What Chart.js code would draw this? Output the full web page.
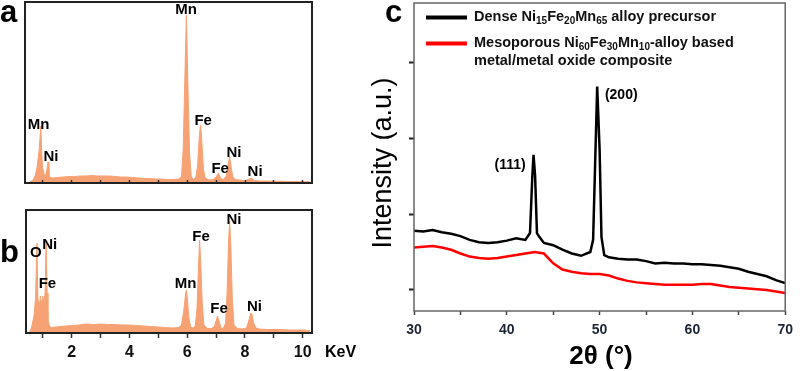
<!DOCTYPE html>
<html>
<head>
<meta charset="utf-8">
<script src="https://cdn.jsdelivr.net/npm/chart.js@4"></script>
<style>
body { margin: 0; background: #fff; }
#wrap { position: relative; width: 800px; height: 371px; overflow: hidden; }
canvas { position: absolute; }
</style>
</head>
<body>
<div id="wrap">
  <canvas id="chartA" width="330" height="190" style="left:0;top:0"></canvas>
  <canvas id="chartB" width="370" height="181" style="left:0;top:190px"></canvas>
  <canvas id="chartC" width="440" height="371" style="left:360px;top:0"></canvas>
</div>
<script>
// EDS spectrum a (dense precursor), energy in keV, counts in arb. units
const keVA = [0.45,0.52,0.60,0.66,0.74,0.80,0.87,0.93,0.96,0.99,1.04,1.08,1.13,1.18,1.21,1.25,1.35,1.50,1.70,1.90,2.10,2.30,2.50,2.70,2.90,3.10,3.30,3.50,3.70,3.90,4.10,4.30,4.50,4.70,4.90,5.10,5.30,5.50,5.70,5.80,5.86,5.92,5.97,6.02,6.08,6.14,6.22,6.30,6.36,6.42,6.46,6.50,6.56,6.62,6.75,6.90,7.00,7.08,7.15,7.25,7.35,7.41,7.47,7.52,7.58,7.66,7.80,8.00,8.12,8.22,8.32,8.50,8.75,9.00,9.25,9.50,9.75,10.00,10.25];
const countsA = [0,0.5,2,3,8,16,33,57,30,16,9,7,12,21,9,5.5,5,5.5,6,6.5,6.5,7,7,7.5,7,7,7,6.5,6,6,5.5,5,4.5,4.5,4,4,3.5,3.5,4,6,35,110,168,100,30,6,3.5,6,18,48,58,44,14,5,3,3.5,6,10,5,3.5,7,18,26,16,6,3.5,3,2.5,3.5,5,2.5,2,2,1.8,1.8,1.5,1.5,1.3,1.2];

// EDS spectrum b (mesoporous composite)
const keVB = [0.50,0.55,0.62,0.70,0.75,0.80,0.83,0.86,0.90,0.92,0.95,0.98,1.00,1.04,1.08,1.12,1.15,1.18,1.23,1.30,1.45,1.60,1.80,2.00,2.25,2.50,2.75,3.00,3.25,3.50,3.75,4.00,4.25,4.50,4.75,5.00,5.25,5.50,5.70,5.80,5.88,5.94,5.97,6.00,6.06,6.12,6.20,6.28,6.34,6.39,6.43,6.47,6.52,6.58,6.70,6.85,6.95,7.02,7.05,7.10,7.17,7.25,7.33,7.38,7.43,7.47,7.51,7.56,7.62,7.75,7.90,8.05,8.13,8.20,8.24,8.30,8.38,8.50,8.75,9.00,9.25,9.50,9.75,10.00,10.25];
const countsB = [0,1,6,18,35,90,35,28,32,37,30,33,37,30,40,93,40,14,7,5.5,6,6.5,7,7.5,8,9,8.5,9,8.5,8.5,8,8,7.5,7,6.5,6,5.5,5,5.5,8,22,38,43,36,15,6,5,7,25,65,93,70,30,8,4.5,4.5,7,14,17,12,5,4.5,10,40,90,112,88,35,8,4.5,4,5,12,20,19,10,5,4,3.5,3.5,3.5,3,3,3,2.5];

const energyTicks = [1,2,3,4,5,6,7,8,9,10];
const energyLabels = [2,4,6,8,10];

// labels: [text, keV, counts] at the label centre
const peakLabelsA = [['Mn',5.96,173.5],['Mn',0.85,58.3],['Ni',1.28,26],['Fe',6.55,62.5],['Fe',7.14,14.5],['Ni',7.62,30.5],['Ni',8.35,11.3]];
const peakLabelsB = [['O',0.76,80],['Ni',1.24,87.7],['Fe',1.16,49],['Mn',5.94,49.5],['Fe',6.48,96],['Ni',7.62,113.5],['Fe',7.10,24.5],['Ni',8.33,26]];

// XRD patterns, 2theta in degrees
const thetaDense = [30,31,32,33,34,35,36,37,38,39,40,41,42,42.5,42.75,42.88,43.05,43.25,43.5,44,45,46,47,48,49,49.3,49.5,49.74,50.0,50.2,50.5,51,52,53,54,55,56,57,58,59,60,61,62,63,64,65,66,67,68,69,70];
const intDense = [1.78,1.77,1.79,1.76,1.74,1.71,1.66,1.63,1.62,1.63,1.65,1.68,1.66,1.75,2.50,2.78,2.50,1.75,1.70,1.62,1.59,1.53,1.48,1.45,1.50,1.66,2.58,3.68,2.85,1.70,1.46,1.43,1.41,1.40,1.40,1.38,1.35,1.36,1.35,1.35,1.34,1.34,1.33,1.32,1.30,1.28,1.24,1.21,1.18,1.13,1.09];
const thetaMeso = [30,31,32,33,34,35,36,37,38,39,40,41,42,43,44,45,46,47,48,49,50,51,52,53,54,55,56,57,58,59,60,61,62,63,64,65,66,67,68,69,70];
const intMeso = [1.56,1.57,1.58,1.56,1.53,1.48,1.44,1.42,1.41,1.42,1.44,1.46,1.48,1.50,1.48,1.35,1.27,1.24,1.22,1.21,1.21,1.19,1.15,1.12,1.10,1.09,1.08,1.07,1.07,1.07,1.07,1.08,1.08,1.06,1.04,1.03,1.02,1.01,1.00,0.98,0.96];

const thetaTicks = [30,35,40,45,50,55,60,65,70];
const thetaLabels = [30,40,50,60,70];
const intensityTicks = [1,2,3,4];

const FONT = "'Liberation Sans', Arial, sans-serif";
const ORANGE = '#F7A274';

function pts(xs, ys) { return xs.map((x, i) => ({ x: x, y: ys[i] })); }

// draws frame, panel letter and texts
const decor = {
  id: 'decor',
  afterDraw(chart, args, opts) {
    const ctx = chart.ctx, a = chart.chartArea;
    ctx.save();
    ctx.strokeStyle = opts.frameColor;
    ctx.lineWidth = opts.frameWidth;
    ctx.strokeRect(a.left, a.top, a.right - a.left, a.bottom - a.top);
    ctx.fillStyle = '#000';
    ctx.font = 'bold 31px ' + FONT;
    ctx.textAlign = 'left';
    ctx.textBaseline = 'alphabetic';
    ctx.fillText(opts.letter[0], opts.letter[1], opts.letter[2]);
    if (opts.peaks) {
      ctx.font = 'bold 15px ' + FONT;
      ctx.textAlign = 'center';
      ctx.textBaseline = 'middle';
      const sx = chart.scales.x, sy = chart.scales.y;
      opts.peaks.forEach(p => ctx.fillText(p[0], sx.getPixelForValue(p[1]), sy.getPixelForValue(p[2])));
    }
    if (opts.extra) opts.extra(chart, ctx);
    ctx.restore();
  }
};

function runs(ctx, x, y, parts, size) {
  parts.forEach(p => {
    const sub = p[1];
    ctx.font = 'bold ' + (sub ? Math.round(size * 0.7) : size) + 'px ' + FONT;
    ctx.fillText(p[0], x, sub ? y + 4 : y);
    x += ctx.measureText(p[0]).width;
  });
}

function edsChart(id, keV, counts, yMax, xMin, pad, axisH, showLabels, peaks, letter, extra) {
  return new Chart(id, {
    type: 'line',
    data: {
      datasets: [{
        data: pts(keV, counts),
        borderColor: ORANGE,
        backgroundColor: ORANGE,
        borderWidth: 1,
        pointRadius: 0,
        fill: 'origin',
        tension: 0
      }]
    },
    options: {
      responsive: false,
      animation: false,
      layout: { padding: pad },
      plugins: {
        legend: { display: false },
        tooltip: { enabled: false },
        decor: { frameColor: '#222', frameWidth: 2, letter: letter, peaks: peaks, extra: extra }
      },
      scales: {
        x: {
          type: 'linear', min: xMin, max: 10.32,
          afterBuildTicks: s => { s.ticks = energyTicks.map(v => ({ value: v })); },
          afterFit: s => { s.height = axisH; },
          border: { display: false },
          grid: { drawOnChartArea: false, tickLength: showLabels ? 5 : -3, tickColor: '#333', tickWidth: 1.5, z: 1 },
          ticks: {
            display: showLabels, autoSkip: false, maxRotation: 0, padding: 5, color: '#111',
            font: { family: FONT, size: 16, weight: 'bold' },
            callback: v => energyLabels.includes(v) ? String(v) : ''
          }
        },
        y: { display: false, min: 0, max: yMax }
      }
    },
    plugins: [decor]
  });
}

edsChart('chartA', keVA, countsA, 181, 0.38, { left: 25, top: 2, right: 18, bottom: 0 }, 7, false, peakLabelsA, ['a', 0, 22]);
edsChart('chartB', keVB, countsB, 123, 0.42, { left: 26, top: 20, right: 58, bottom: 0 }, 38, true, peakLabelsB, ['b', 0, 72],
  (chart, ctx) => {
    ctx.font = 'bold 16px ' + FONT;
    ctx.textAlign = 'left';
    ctx.textBaseline = 'middle';
    ctx.fillText('KeV', 325, 163);
  });

new Chart('chartC', {
  type: 'line',
  data: {
    datasets: [
      { label: 'Dense', data: pts(thetaDense, intDense), borderColor: '#000', borderWidth: 2.5, pointRadius: 0, tension: 0 },
      { label: 'Mesoporous', data: pts(thetaMeso, intMeso), borderColor: '#f00', borderWidth: 2.5, pointRadius: 0, tension: 0 }
    ]
  },
  options: {
    responsive: false,
    animation: false,
    layout: { padding: { left: 0, top: 3, right: 11, bottom: 0 } },
    plugins: {
      legend: { display: false },
      tooltip: { enabled: false },
      decor: {
        frameColor: '#666', frameWidth: 1.5, letter: ['c', 25, 22],
        extra: (chart, ctx) => {
          const sx = chart.scales.x, sy = chart.scales.y;
          ctx.font = 'bold 14px ' + FONT;
          ctx.textBaseline = 'middle';
          ctx.textAlign = 'right';
          ctx.fillText('(111)', sx.getPixelForValue(42.03), sy.getPixelForValue(2.65));
          ctx.textAlign = 'left';
          ctx.fillText('(200)', sx.getPixelForValue(50.57), sy.getPixelForValue(3.56));
          // legend
          ctx.lineWidth = 4;
          ctx.strokeStyle = '#000';
          ctx.beginPath(); ctx.moveTo(66, 17.5); ctx.lineTo(107, 17.5); ctx.stroke();
          ctx.strokeStyle = '#f00';
          ctx.beginPath(); ctx.moveTo(66, 43.5); ctx.lineTo(107, 43.5); ctx.stroke();
          ctx.fillStyle = '#111';
          runs(ctx, 114, 17, [['Dense Ni',0],['15',1],['Fe',0],['20',1],['Mn',0],['65',1],[' alloy precursor',0]], 14.5);
          runs(ctx, 114, 43, [['Mesoporous Ni',0],['60',1],['Fe',0],['30',1],['Mn',0],['10',1],['-alloy based',0]], 14.5);
          runs(ctx, 114, 61, [['metal/metal oxide composite',0]], 14.5);
          // axis titles
          ctx.fillStyle = '#000';
          ctx.textAlign = 'center';
          ctx.font = 'bold 26px ' + FONT;
          ctx.fillText('2θ (°)', 241, 357);
          ctx.save();
          ctx.translate(24, 163);
          ctx.rotate(-Math.PI / 2);
          ctx.font = '27px ' + FONT;
          ctx.fillText('Intensity (a.u.)', 0, 0);
          ctx.restore();
        }
      }
    },
    scales: {
      x: {
        type: 'linear', min: 30, max: 70,
        afterBuildTicks: s => { s.ticks = thetaTicks.map(v => ({ value: v })); },
        afterFit: s => { s.height = 60; },
        border: { display: false },
        grid: { drawOnChartArea: false, tickLength: 4, tickColor: '#444', tickWidth: 1.5 },
        ticks: {
          autoSkip: false, maxRotation: 0, padding: 7, color: '#1c2535',
          font: { family: FONT, size: 14, weight: 'bold' },
          callback: v => thetaLabels.includes(v) ? String(v) : ''
        }
      },
      y: {
        type: 'linear', min: 0.723, max: 4.78,
        afterBuildTicks: s => { s.ticks = intensityTicks.map(v => ({ value: v })); },
        afterFit: s => { s.width = 54; },
        border: { display: false },
        grid: { drawOnChartArea: false, tickLength: 5, tickColor: '#222', tickWidth: 2 },
        ticks: { display: false }
      }
    }
  },
  plugins: [decor]
});
</script>
</body>
</html>
